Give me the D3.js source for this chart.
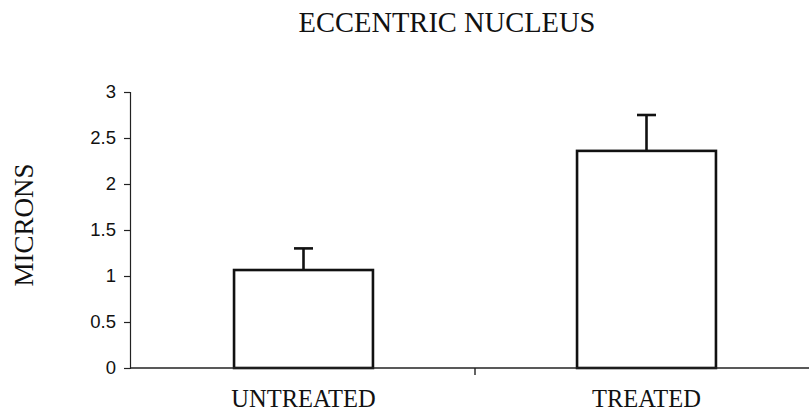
<!DOCTYPE html>
<html>
<head>
<meta charset="utf-8">
<script src="https://cdn.jsdelivr.net/npm/d3@7"></script>
<style>
  html, body { margin: 0; padding: 0; background: #fff; }
  svg { display: block; }
</style>
</head>
<body>
<div id="chart"></div>
<script>
// ---- data ----
const categories = ["UNTREATED", "TREATED"];
const means = [1.065, 2.36];
const errors = [0.235, 0.39];
const yTicks = [0, 0.5, 1, 1.5, 2, 2.5, 3];
const yTickLabels = ["0", "0.5", "1", "1.5", "2", "2.5", "3"];
const title = "ECCENTRIC NUCLEUS";
const yTitle = "MICRONS";

const W = 809, H = 413;
const svg = d3.select("#chart").append("svg").attr("width", W).attr("height", H);

const plot = { left: 130, right: 818, top: 92, bottom: 368 };

const y = d3.scaleLinear().domain([0, 3]).range([plot.bottom, plot.top]);
const xAxisScale = d3.scaleBand().domain(categories).range([plot.left + 2, plot.right]);
const xBars = d3.scaleBand().domain(categories).range([plot.left + 2, plot.right])
  .paddingInner(0.595).paddingOuter(0.2975);

const serif = "'Liberation Serif', 'Times New Roman', serif";
const sans = "'Liberation Sans', Arial, sans-serif";

// title
svg.append("text").attr("x", 447).attr("y", 32).attr("text-anchor", "middle")
  .attr("font-family", serif).attr("font-size", 28.5).attr("fill", "#111").text(title);

// y title
svg.append("text").attr("transform", "translate(33,225) rotate(-90)").attr("text-anchor", "middle")
  .attr("font-family", serif).attr("font-size", 27).attr("fill", "#111").text(yTitle);

// y axis
const yAxis = d3.axisLeft(y).tickValues(yTicks).tickSize(6).tickPadding(8)
  .tickFormat((d, i) => yTickLabels[i]);
const gy = svg.append("g").attr("transform", `translate(${plot.left},0)`).call(yAxis);
gy.select(".domain").attr("stroke", "#222").attr("stroke-width", 1.2);
gy.selectAll(".tick line").attr("stroke", "#222").attr("stroke-width", 1.2);
gy.selectAll(".tick text").attr("font-family", sans).attr("font-size", 18.5).attr("fill", "#111");

// bars
svg.selectAll("rect.bar").data(categories).join("rect").attr("class", "bar")
  .attr("x", d => xBars(d))
  .attr("y", (d, i) => y(means[i]))
  .attr("width", xBars.bandwidth())
  .attr("height", (d, i) => y(0) - y(means[i]))
  .attr("fill", "#fff").attr("stroke", "#111").attr("stroke-width", 2.6);

// error bars
const capW = 19;
const eg = svg.selectAll("g.err").data(categories).join("g").attr("class", "err");
eg.append("line")
  .attr("x1", d => xBars(d) + xBars.bandwidth() / 2)
  .attr("x2", d => xBars(d) + xBars.bandwidth() / 2)
  .attr("y1", (d, i) => y(means[i]))
  .attr("y2", (d, i) => y(means[i] + errors[i]))
  .attr("stroke", "#111").attr("stroke-width", 2.6);
eg.append("line")
  .attr("x1", d => xBars(d) + xBars.bandwidth() / 2 - capW / 2)
  .attr("x2", d => xBars(d) + xBars.bandwidth() / 2 + capW / 2)
  .attr("y1", (d, i) => y(means[i] + errors[i]))
  .attr("y2", (d, i) => y(means[i] + errors[i]))
  .attr("stroke", "#111").attr("stroke-width", 2.6);

// x axis
const gx = svg.append("g").attr("transform", `translate(0,${plot.bottom})`);
gx.append("line").attr("x1", plot.left).attr("x2", plot.right).attr("y1", 0).attr("y2", 0)
  .attr("stroke", "#222").attr("stroke-width", 1.4);
// tick marks between categories
const boundaries = categories.slice(1).map(c => xAxisScale(c));
gx.selectAll("line.sep").data(boundaries).join("line").attr("class", "sep")
  .attr("x1", d => d).attr("x2", d => d).attr("y1", 0).attr("y2", 7)
  .attr("stroke", "#222").attr("stroke-width", 1.4);
gx.selectAll("text.cat").data(categories).join("text").attr("class", "cat")
  .attr("x", d => xAxisScale(d) + xAxisScale.bandwidth() / 2)
  .attr("y", 39).attr("text-anchor", "middle")
  .attr("font-family", serif).attr("font-size", 24.5).attr("fill", "#111")
  .text(d => d);
</script>
</body>
</html>
